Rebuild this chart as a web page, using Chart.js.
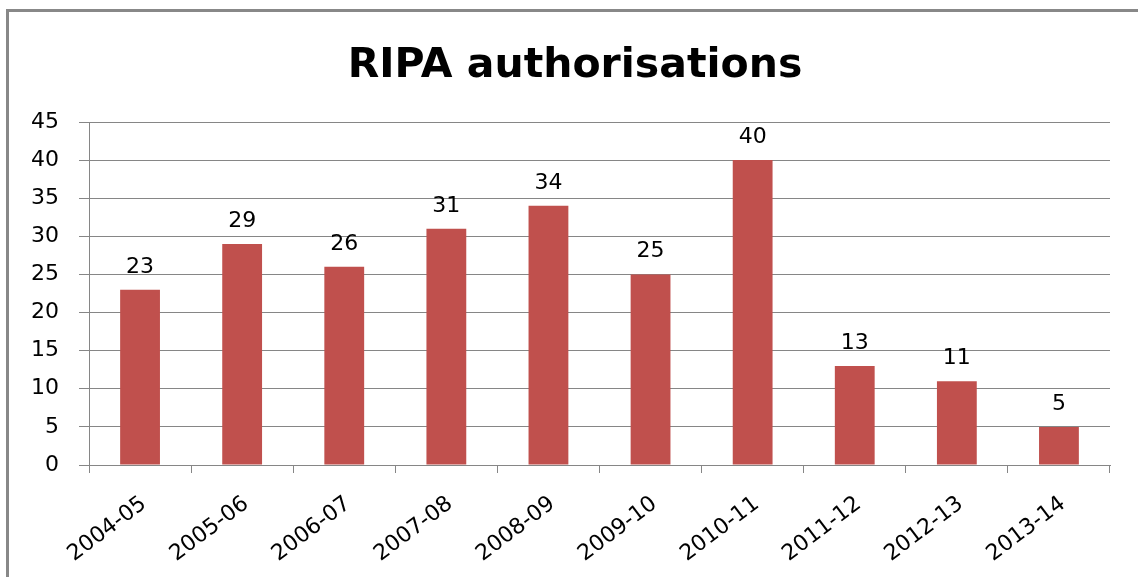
<!DOCTYPE html>
<html>
<head>
<meta charset="utf-8">
<script src="https://cdn.jsdelivr.net/npm/chart.js@4"></script>
<style>
  html, body { margin: 0; padding: 0; background: #ffffff; overflow: hidden; }
  #frame { position: absolute; left: 6px; top: 9px; width: 1300px; height: 700px;
           border-top: 3px solid #888888; border-left: 3px solid #888888; box-sizing: border-box; }
  #wrap { position: absolute; left: 0; top: 0; width: 1138px; height: 577px; }
</style>
</head>
<body>
<div id="frame"></div>
<div id="wrap"><canvas id="c" width="1138" height="577"></canvas></div>
<script>
const categories = ["2004-05","2005-06","2006-07","2007-08","2008-09","2009-10","2010-11","2011-12","2012-13","2013-14"];
const authorisations = [23, 29, 26, 31, 34, 25, 40, 13, 11, 5];
const yTicks = [0, 5, 10, 15, 20, 25, 30, 35, 40, 45];
const titleText = "RIPA authorisations";

// Chart title, centred over the original (framed) chart
const chartTitle = {
  id: 'chartTitle',
  afterDraw(chart) {
    const ctx = chart.ctx;
    ctx.save();
    ctx.font = 'bold 41px "DejaVu Sans"';
    ctx.fillStyle = '#000000';
    ctx.textAlign = 'center';
    ctx.textBaseline = 'alphabetic';
    ctx.fillText(titleText, 575, 77);
    ctx.restore();
  }
};

const valueLabels = {
  id: 'valueLabels',
  afterDatasetsDraw(chart) {
    const ctx = chart.ctx;
    const meta = chart.getDatasetMeta(0);
    ctx.save();
    ctx.font = '22px "DejaVu Sans"';
    ctx.fillStyle = '#000000';
    ctx.textAlign = 'center';
    ctx.textBaseline = 'alphabetic';
    meta.data.forEach((bar, i) => {
      ctx.fillText(String(chart.data.datasets[0].data[i]), bar.x, bar.y - 17);
    });
    ctx.restore();
  }
};

new Chart(document.getElementById('c'), {
  type: 'bar',
  data: {
    labels: categories,
    datasets: [{
      label: titleText,
      data: authorisations,
      backgroundColor: '#C0504D',
      borderWidth: 0,
      barPercentage: 0.39,
      categoryPercentage: 1.0
    }]
  },
  options: {
    responsive: false,
    animation: false,
    devicePixelRatio: 1,
    layout: { padding: { left: 0, right: 28, top: 122, bottom: 0 } },
    plugins: {
      legend: { display: false },
      tooltip: { enabled: false },
      title: { display: false }
    },
    scales: {
      x: {
        grid: { display: true, drawOnChartArea: false, drawTicks: true, tickLength: 8, color: '#868686', lineWidth: 1, offset: true },
        border: { display: true, color: '#868686', width: 1 },
        ticks: {
          color: '#000000',
          font: { family: 'DejaVu Sans', size: 22 },
          maxRotation: 37, minRotation: 37,
          autoSkip: false,
          padding: 18,
          labelOffset: 4
        },
        afterFit(scale) { scale.height = 112; }
      },
      y: {
        min: 0, max: 45,
        afterBuildTicks(scale) { scale.ticks = yTicks.map(v => ({ value: v })); },
        grid: { color: '#868686', lineWidth: 1, tickLength: 10, drawTicks: true },
        border: { display: true, color: '#868686', width: 1 },
        ticks: {
          color: '#000000',
          font: { family: 'DejaVu Sans', size: 22 },
          padding: 20
        },
        afterFit(scale) { scale.width = 89; }
      }
    }
  },
  plugins: [valueLabels, chartTitle]
});
</script>
</body>
</html>
